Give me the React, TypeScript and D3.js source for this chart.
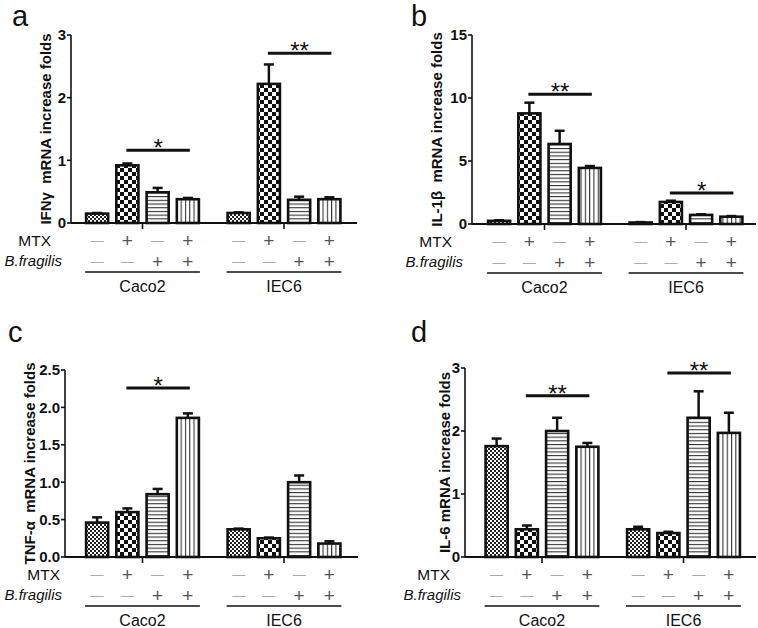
import React from "react";
import * as d3 from "d3";

// ---------- data ----------
const groups = ["Caco2", "IEC6"];
const conditions = [0, 1, 2, 3];
const mtxSigns = ["—", "+", "—", "+"];
const bfSigns = ["—", "—", "+", "+"];

const ifngMean = [0.15, 0.92, 0.49, 0.38, 0.16, 2.22, 0.37, 0.38];
const ifngErr = [0.01, 0.03, 0.07, 0.02, 0.01, 0.31, 0.05, 0.03];
const ifngTicks = [0, 1, 2, 3];

const il1bMean = [0.25, 8.78, 6.35, 4.45, 0.12, 1.75, 0.72, 0.58];
const il1bErr = [0.05, 0.85, 1.05, 0.15, 0.03, 0.1, 0.05, 0.05];
const il1bTicks = [0, 5, 10, 15];

const tnfMean = [0.46, 0.6, 0.84, 1.86, 0.37, 0.25, 1.0, 0.18];
const tnfErr = [0.07, 0.05, 0.07, 0.06, 0.01, 0.01, 0.09, 0.03];
const tnfTicks = [0, 0.5, 1.0, 1.5, 2.0, 2.5];

const il6Mean = [1.76, 0.44, 2.0, 1.75, 0.44, 0.38, 2.21, 1.97];
const il6Err = [0.12, 0.06, 0.21, 0.06, 0.04, 0.02, 0.42, 0.32];
const il6Ticks = [0, 1, 2, 3];

// significance: [group, fromBar, toBar, level(data units), label]
const ifngSig = [[0, 1, 3, 1.16, "*"], [1, 1, 3, 2.71, "**"]];
const il1bSig = [[0, 1, 3, 10.3, "**"], [1, 1, 3, 2.46, "*"]];
const tnfSig = [[0, 1, 3, 2.26, "*"]];
const il6Sig = [[0, 1, 3, 2.56, "**"], [1, 1, 3, 2.92, "**"]];

// ---------- layout ----------
const panels = [
  { letter: "a", lx: 12, ly: 26, title: "IFNγ  mRNA increase folds", mean: ifngMean, err: ifngErr, ticks: ifngTicks, fmt: d3.format("d"), sig: ifngSig,
    axisX: 71, axisEnd: 357, groupLeft: 82, yZero: 223, yTop: 35, max: 3, titleX: 46, mtxEnd: 51, bfEnd: 62 },
  { letter: "b", lx: 411, ly: 26, title: "IL-1β  mRNA increase folds", mean: il1bMean, err: il1bErr, ticks: il1bTicks, fmt: d3.format("d"), sig: il1bSig,
    axisX: 472, axisEnd: 756, groupLeft: 484, yZero: 224, yTop: 35, max: 15, titleX: 437, mtxEnd: 452, bfEnd: 463 },
  { letter: "c", lx: 8, ly: 342, title: "TNF-α  mRNA increase folds", mean: tnfMean, err: tnfErr, ticks: tnfTicks, fmt: d3.format(".1f"), sig: tnfSig,
    axisX: 65, axisEnd: 358, groupLeft: 82, yZero: 557, yTop: 370, max: 2.5, titleX: 30, mtxEnd: 60, bfEnd: 62 },
  { letter: "d", lx: 411, ly: 342, title: "IL-6 mRNA increase folds", mean: il6Mean, err: il6Err, ticks: il6Ticks, fmt: d3.format("d"), sig: il6Sig,
    axisX: 465, axisEnd: 756, groupLeft: 481.5, yZero: 557, yTop: 368, max: 3, titleX: 445, mtxEnd: 450, bfEnd: 461 },
];

const patternIds = ["pFine", "pCheck", "pHoriz", "pVert"];
const FONT = "Arial, 'Liberation Sans', Helvetica, sans-serif";

function Panel({ p }: { p: any }) {
  const y = d3.scaleLinear().domain([0, p.max]).range([p.yZero, p.yTop]);
  const outer = d3.scaleBand<string>().domain(groups).range([p.groupLeft, p.groupLeft + 262.5]).paddingInner(0.145).paddingOuter(0);
  const inner = d3.scaleBand<number>().domain(conditions).range([0, outer.bandwidth()]).paddingInner(0.27).paddingOuter(0.135);
  const bw = inner.bandwidth();
  const cx = (g: number, i: number) => (outer(groups[g]) as number) + (inner(i) as number) + bw / 2;

  return (
    <g fontFamily={FONT}>
      <text x={p.lx} y={p.ly} fontSize={29} fill="#111">{p.letter}</text>
      {/* y axis */}
      <line x1={p.axisX} x2={p.axisX} y1={y(0)} y2={y(p.max)} stroke="#111" strokeWidth={1.6} />
      {p.ticks.map((t: number) => (
        <g key={t}>
          <line x1={p.axisX - 4} x2={p.axisX} y1={y(t)} y2={y(t)} stroke="#111" strokeWidth={1.6} />
          <text x={p.axisX - 5} y={y(t)} dy="0.36em" textAnchor="end" fontSize={15} fontWeight="bold" fill="#111">{p.fmt(t)}</text>
        </g>
      ))}
      <text transform={`translate(${p.titleX},${(y(0) + y(p.max)) / 2}) rotate(-90)`} dy="0.36em" textAnchor="middle" fontSize={15} fontWeight="bold" fill="#111" style={{ whiteSpace: "pre" }}>{p.title}</text>
      {/* bars */}
      {groups.map((g, gi) =>
        conditions.map((c) => {
          const k = gi * 4 + c;
          const v = p.mean[k];
          const e = p.err[k];
          const x = cx(gi, c);
          return (
            <g key={`${gi}-${c}`}>
              <line x1={x} x2={x} y1={y(v)} y2={y(v + e)} stroke="#111" strokeWidth={2.5} />
              <line x1={x - 5} x2={x + 5} y1={y(v + e)} y2={y(v + e)} stroke="#111" strokeWidth={2.5} />
              <rect x={x - bw / 2} y={y(v)} width={bw} height={y(0) - y(v)} fill={`url(#${patternIds[c]})`} stroke="#111" strokeWidth={2.6} />
            </g>
          );
        })
      )}
      {/* x axis */}
      <line x1={p.axisX} x2={p.axisEnd} y1={y(0)} y2={y(0)} stroke="#111" strokeWidth={2} />
      {groups.map((g) => {
        const gx = (outer(g) as number) + outer.bandwidth() / 2;
        return <line key={g} x1={gx} x2={gx} y1={y(0)} y2={y(0) + 6} stroke="#111" strokeWidth={1.6} />;
      })}
      {/* significance */}
      {p.sig.map((s: any, i: number) => {
        const x1 = cx(s[0], s[1]) - 1;
        const x2 = cx(s[0], s[2]) + 2;
        const ly = y(s[3]);
        return (
          <g key={i}>
            <line x1={x1} x2={x2} y1={ly} y2={ly} stroke="#111" strokeWidth={3} />
            <text x={(x1 + x2) / 2} y={ly + 6} textAnchor="middle" fontSize={24} fill="#111">{s[4]}</text>
          </g>
        );
      })}
      {/* condition rows */}
      <text x={p.mtxEnd} y={y(0) + 17} dy="0.36em" textAnchor="end" fontSize={15.5} fill="#111">MTX</text>
      <text x={p.bfEnd} y={y(0) + 38} dy="0.36em" textAnchor="end" fontSize={15} fontStyle="italic" fill="#111">B.fragilis</text>
      {groups.map((g, gi) => (
        <g key={g}>
          {conditions.map((c) => (
            <g key={c}>
              <text x={cx(gi, c)} y={y(0) + 17} dy="0.36em" textAnchor="middle" fontSize={mtxSigns[c] === "+" ? 19 : 13} fill={mtxSigns[c] === "+" ? "#555" : "#aaa"}>{mtxSigns[c]}</text>
              <text x={cx(gi, c)} y={y(0) + 38} dy="0.36em" textAnchor="middle" fontSize={bfSigns[c] === "+" ? 19 : 13} fill={bfSigns[c] === "+" ? "#555" : "#aaa"}>{bfSigns[c]}</text>
            </g>
          ))}
          <line x1={cx(gi, 0) - bw / 2 - 1} x2={cx(gi, 3) + bw / 2 + 1} y1={y(0) + 49} y2={y(0) + 49} stroke="#111" strokeWidth={1.3} />
          <text x={(outer(g) as number) + outer.bandwidth() / 2} y={y(0) + 63} dy="0.36em" textAnchor="middle" fontSize={16} fill="#111">{g}</text>
        </g>
      ))}
    </g>
  );
}

export default function App() {
  return (
    <svg width={758} height={628} viewBox="0 0 758 628" style={{ position: "absolute", left: 0, top: 0, background: "#fff" }}>
      <defs>
        <pattern id="pFine" patternUnits="userSpaceOnUse" width={4} height={4}>
          <rect width={4} height={4} fill="#fff" />
          <rect x={0} y={0} width={2} height={2} fill="#222" />
          <rect x={2} y={2} width={2} height={2} fill="#222" />
        </pattern>
        <pattern id="pCheck" patternUnits="userSpaceOnUse" width={8} height={8}>
          <rect width={8} height={8} fill="#fff" />
          <rect x={0} y={0} width={4} height={4} fill="#111" />
          <rect x={4} y={4} width={4} height={4} fill="#111" />
        </pattern>
        <pattern id="pHoriz" patternUnits="userSpaceOnUse" width={4} height={3.7}>
          <rect width={4} height={3.7} fill="#fff" />
          <rect x={0} y={0} width={4} height={1.1} fill="#333" />
        </pattern>
        <pattern id="pVert" patternUnits="userSpaceOnUse" width={4.3} height={4}>
          <rect width={4.3} height={4} fill="#fff" />
          <rect x={0} y={0} width={1.1} height={4} fill="#333" />
        </pattern>
      </defs>
      <rect width={758} height={628} fill="#fff" />
      {panels.map((p) => (
        <Panel key={p.letter} p={p} />
      ))}
    </svg>
  );
}
